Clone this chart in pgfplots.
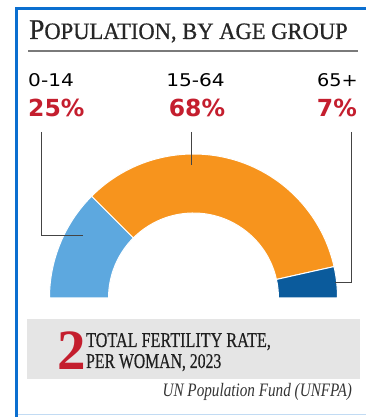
\documentclass[border=0pt]{standalone}
\usepackage{pgfplots}
\pgfplotsset{compat=1.18}
\usepackage{pgfplotstable}
\usepackage{fontspec}
\setmainfont{Liberation Serif}
\newfontfamily\titlefont[FakeBold=0.8]{Liberation Serif}
\newfontfamily\boxfont[FakeBold=0.4]{Liberation Serif}
\newfontfamily\lab{DejaVu Sans}
\definecolor{frameblue}{HTML}{0B6FD0}
\definecolor{lightblue}{HTML}{5DA8DF}
\definecolor{orangec}{HTML}{F7941D}
\definecolor{darkblue}{HTML}{0B5B9C}
\definecolor{redc}{HTML}{C41E2E}
\definecolor{boxgrey}{HTML}{E5E5E5}
\definecolor{rulegrey}{HTML}{7A7A7A}
\definecolor{leader}{HTML}{444444}
\pgfplotstableread{
group pct
0-14 25
15-64 68
65+ 7
}\agetable
\begin{document}
\begin{tikzpicture}
\pgfplotstablegetelem{0}{pct}\of\agetable \let\pA\pgfplotsretval
\pgfplotstablegetelem{1}{pct}\of\agetable \let\pB\pgfplotsretval
\pgfplotstablegetelem{2}{pct}\of\agetable \let\pC\pgfplotsretval
\pgfmathsetmacro\aA{180}
\pgfmathsetmacro\aB{180-1.8*\pA}
\pgfmathsetmacro\aC{\aB-1.8*\pB}
\pgfmathsetmacro\aD{\aC-1.8*\pC}
\begin{axis}[x=1pt,y=1pt,xmin=0,xmax=366,ymin=0,ymax=417,
  hide axis,scale only axis,clip=false]
\path (axis cs:0,0) rectangle (axis cs:366,417);
% frame
\fill[frameblue] (axis cs:14.5,0) rectangle (axis cs:18,410);
\fill[frameblue] (axis cs:14.5,407) rectangle (axis cs:366,410);
\draw[color=frameblue!25,line width=1pt] (axis cs:18,2) -- (axis cs:366,2);
% title
\node[anchor=base west,inner sep=0pt,xscale=0.96,text=black!85] at (axis cs:29,378)
  {\titlefont{\fontsize{28.5}{28}\selectfont P}{\fontsize{23.5}{23}\selectfont OPULATION, BY AGE GROUP}};
\draw[rulegrey,line width=2pt] (axis cs:28,366) -- (axis cs:358,366);
% labels
\node[anchor=base west,inner sep=0pt,xscale=1.15] at (axis cs:28,330) {\lab\fontsize{17.5}{17}\selectfont 0-14};
\node[anchor=base west,inner sep=0pt,text=redc] at (axis cs:28,300) {\lab\bfseries\fontsize{23.5}{23.5}\selectfont 25\%};
\node[anchor=base,inner sep=0pt,xscale=1.15] at (axis cs:195.5,330) {\lab\fontsize{17.5}{17}\selectfont 15-64};
\node[anchor=base,inner sep=0pt,text=redc] at (axis cs:197,300) {\lab\bfseries\fontsize{23.5}{23.5}\selectfont 68\%};
\node[anchor=base east,inner sep=0pt,xscale=1.1] at (axis cs:358,330) {\lab\fontsize{17.5}{17}\selectfont 65+};
\node[anchor=base east,inner sep=0pt,text=redc] at (axis cs:357,300) {\lab\bfseries\fontsize{23.5}{23.5}\selectfont 7\%};
% donut
\fill[lightblue,draw=white,line width=1pt] (axis cs:193.5,119) ++(\aA:144pt) arc[start angle=\aA,end angle=\aB,radius=144pt] -- ++(\aB+180:59pt) arc[start angle=\aB,end angle=\aA,radius=85pt] -- cycle;
\fill[orangec,draw=white,line width=1pt] (axis cs:193.5,119) ++(\aB:144pt) arc[start angle=\aB,end angle=\aC,radius=144pt] -- ++(\aC+180:59pt) arc[start angle=\aC,end angle=\aB,radius=85pt] -- cycle;
\fill[darkblue,draw=white,line width=1pt] (axis cs:193.5,119) ++(\aC:144pt) arc[start angle=\aC,end angle=\aD,radius=144pt] -- ++(\aD+180:59pt) arc[start angle=\aD,end angle=\aC,radius=85pt] -- cycle;
% leaders
\draw[leader,line width=0.8pt] (axis cs:41,285) -- (axis cs:41,182) -- (axis cs:83,182);
\draw[leader,line width=0.8pt] (axis cs:191.7,285) -- (axis cs:191.7,252);
\draw[leader,line width=0.8pt] (axis cs:351.7,285) -- (axis cs:351.7,135) -- (axis cs:335,135);
% fertility box
\fill[boxgrey] (axis cs:27,38) rectangle (axis cs:360,98);
\node[anchor=base west,inner sep=0pt,text=redc] at (axis cs:57,47) {\bfseries\fontsize{57}{57}\selectfont 2};
\node[anchor=base west,inner sep=0pt,xscale=0.77,text=black!88] at (axis cs:86,70) {\boxfont\fontsize{21}{21}\selectfont TOTAL FERTILITY RATE,};
\node[anchor=base west,inner sep=0pt,xscale=0.75,text=black!88] at (axis cs:86,49) {\boxfont\fontsize{21}{21}\selectfont PER WOMAN, 2023};
\node[anchor=base east,inner sep=0pt,xscale=0.8,text=black!80] at (axis cs:352,20) {\itshape\fontsize{19}{19}\selectfont UN Population Fund (UNFPA)};
\end{axis}
\end{tikzpicture}
\end{document}
